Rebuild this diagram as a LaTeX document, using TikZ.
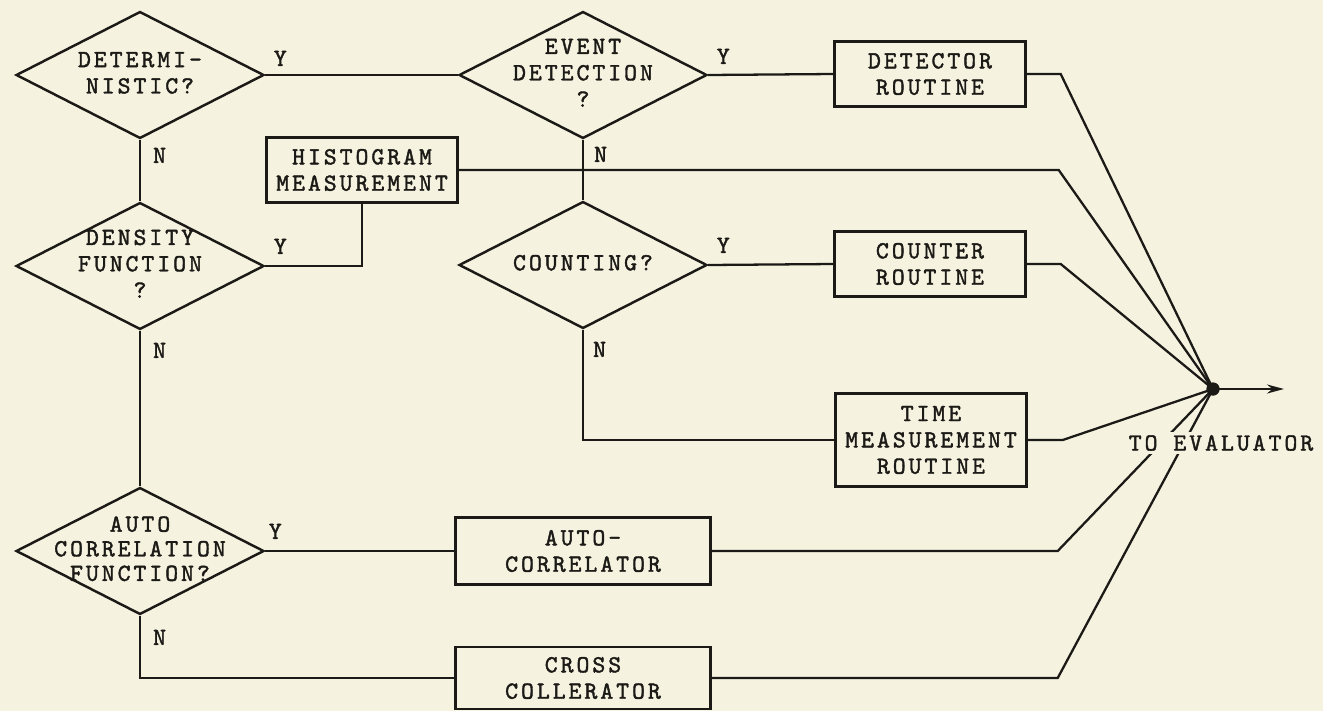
\documentclass[tikz,border=0pt]{standalone}
\usepackage{fontspec}
\usepackage{tikz}
\usetikzlibrary{shapes.geometric,arrows.meta,positioning}
\definecolor{paper}{RGB}{245,243,224}
\definecolor{ink}{RGB}{28,26,22}
\newfontfamily\twfont{lmmono10-regular}[Extension=.otf, LetterSpace=12, FakeBold=1.6]
\newcommand{\tw}{\twfont\fontsize{14}{15}\selectfont}
% diamond text: centred lines that take no width
\newcommand{\dlines}[1]{\makebox[0pt]{\begin{tabular}{@{}c@{}}#1\end{tabular}}}

\begin{document}
\begin{tikzpicture}[x=0.02cm, y=-0.02cm, color=ink, line width=1.3pt,
  dec/.style={diamond, draw=ink, line width=1.4pt, minimum width=4.96cm, minimum height=2.54cm, inner sep=0pt, font=\tw},
  box/.style={rectangle, draw=ink, line width=1.4pt, minimum width=3.82cm, minimum height=1.3cm, align=center, inner sep=0pt, font=\tw},
  lbl/.style={inner sep=0pt, font=\tw},
  dot/.style={circle, fill=ink, inner sep=0pt, minimum size=0.26cm}]
\fill[paper] (0,0) rectangle (1323,711);

% decisions
\node[dec] (det) at (140,75) {\dlines{DETERMI-\\NISTIC?}};
\node[dec] (evt) at (583,75) {\dlines{EVENT\\DETECTION\\?}};
\node[dec] (dens) at (140,266) {\dlines{DENSITY\\FUNCTION\\?}};
\node[dec] (cnt) at (583,265) {\dlines{COUNTING?}};
\node[dec] (acf) at (140,551) {\dlines{AUTO\\[-1pt]CORRELATION\\[-1pt]FUNCTION?}};

% routines
\node[box] (detr) at (930,74) {DETECTOR\\ROUTINE};
\node[box] (hist) at (362,170) {HISTOGRAM\\MEASUREMENT};
\node[box] (cntr) at (930,264) {COUNTER\\ROUTINE};
\node[box, minimum height=1.86cm] (tmr) at (931,440) {TIME\\MEASUREMENT\\ROUTINE};
\node[box, minimum width=5.1cm, minimum height=1.34cm] (acor) at (583,551) {AUTO-\\CORRELATOR};
\node[box, minimum width=5.1cm, minimum height=1.24cm] (ccor) at (583,678) {CROSS\\COLLERATOR};

\node[dot] (jn) at (1213,389) {};
\coordinate (out) at (1284,389);

% yes / no branches
\draw (det.east) -- (evt.west);
\draw (evt.east) -- (detr.west);
\draw (det.south) -- (dens.north);
\draw (dens.east) -| (hist.south);
\draw (evt.south) -- (cnt.north);
\draw (cnt.east) -- (cntr.west);
\draw (cnt.south) |- (tmr.west);
\draw (dens.south) -- (acf.north);
\draw (acf.east) -- (acor.west);
\draw (acf.south) |- (ccor.west);

\node[lbl, above right=0.16cm and 0.15cm of det.east] (detY) {Y};
\node[lbl, above right=0.2cm and 0.15cm of evt.east] (evtY) {Y};
\node[lbl, above right=0.22cm and 0.15cm of dens.east] (densY) {Y};
\node[lbl, above right=0.22cm and 0.15cm of cnt.east] (cntY) {Y};
\node[lbl, above right=0.22cm and 0.05cm of acf.east] (acfY) {Y};
\node[lbl, below right=0.14cm and 0.24cm of det.south] (detN) {N};
\node[lbl, below right=0.12cm and 0.2cm of evt.south] (evtN) {N};
\node[lbl, below right=0.22cm and 0.24cm of dens.south] (densN) {N};
\node[lbl, below right=0.22cm and 0.18cm of cnt.south] (cntN) {N};
\node[lbl, below right=0.26cm and 0.24cm of acf.south] (acfN) {N};

% all results to the evaluator
\draw (detr.east) -- ++(34,0) -- (jn.center);
\draw (hist.east) -- ++(600,0) -- (jn.center);
\draw (cntr.east) -- ++(34,0) -- (jn.center);
\draw (tmr.east) -- ++(35,0) -- (jn.center);
\draw (acor.east) -- ++(346,0) -- (jn.center);
\draw (ccor.east) -- ++(346,0) -- (jn.center);
\draw[-{Stealth[length=3.4mm, width=1.8mm]}] (jn.center) -- (out);
\node[dot] at (jn) {};

\node[lbl, fill=paper, inner sep=2pt] (toev) at (1221,443) {TO EVALUATOR};
\end{tikzpicture}
\end{document}
